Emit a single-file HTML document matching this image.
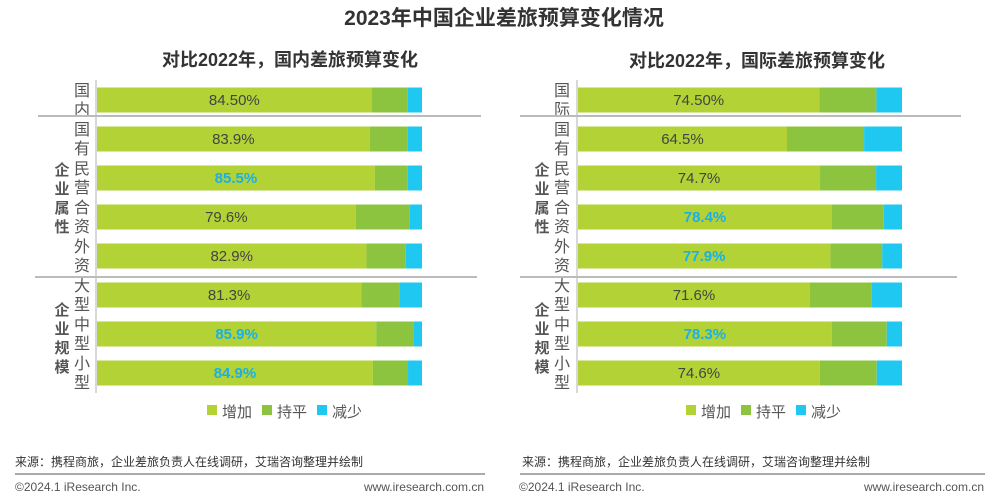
<!DOCTYPE html>
<html><head><meta charset="utf-8">
<style>
body{margin:0;background:#fff;}
svg{display:block;font-family:"Liberation Sans","Noto Sans CJK SC",sans-serif;}
</style></head>
<body>
<svg id="c" width="1007" height="504" xmlns="http://www.w3.org/2000/svg">
<text x="504" y="25" text-anchor="middle" font-size="21" font-weight="bold" fill="#333">2023年中国企业差旅预算变化情况</text>
<text x="290" y="66" text-anchor="middle" font-size="18" font-weight="bold" fill="#333">对比2022年，国内差旅预算变化</text>
<text x="757" y="67" text-anchor="middle" font-size="18" font-weight="bold" fill="#333">对比2022年，国际差旅预算变化</text>
<g id="left"></g>
<g id="right"></g>
<g font-size="12" fill="#333">
<text x="15" y="466">来源：携程商旅，企业差旅负责人在线调研，艾瑞咨询整理并绘制</text>
<text x="15" y="491" fill="#555">©2024.1 iResearch Inc.</text>
<text x="484" y="491" text-anchor="end" fill="#555">www.iresearch.com.cn</text>
<text x="522" y="466">来源：携程商旅，企业差旅负责人在线调研，艾瑞咨询整理并绘制</text>
<text x="519" y="491" fill="#555">©2024.1 iResearch Inc.</text>
<text x="984" y="491" text-anchor="end" fill="#555">www.iresearch.com.cn</text>
</g>
<line x1="15" y1="474" x2="485" y2="474" stroke="#777" stroke-width="1.2"/>
<line x1="520" y1="474" x2="985" y2="474" stroke="#777" stroke-width="1.2"/>
</svg>
<script>
const categoriesLeft = ["国内","国有","民营","合资","外资","大型","中型","小型"];
const categoriesRight = ["国际","国有","民营","合资","外资","大型","中型","小型"];
const domesticIncrease = [84.5,83.9,85.5,79.6,82.9,81.3,85.9,84.9];
const domesticFlat = [11.1,11.7,10.1,16.6,12.1,11.7,11.4,10.8];
const domesticDecrease = [4.4,4.4,4.4,3.8,5.0,7.0,2.7,4.3];
const domesticLabels = ["84.50%","83.9%","85.5%","79.6%","82.9%","81.3%","85.9%","84.9%"];
const intlIncrease = [74.5,64.5,74.7,78.4,77.9,71.6,78.3,74.6];
const intlFlat = [17.6,23.8,17.3,16.0,16.0,19.1,17.0,17.6];
const intlDecrease = [7.9,11.7,8.0,5.6,6.1,9.3,4.7,7.8];
const intlLabels = ["74.50%","64.5%","74.7%","78.4%","77.9%","71.6%","78.3%","74.6%"];
const domesticHighlight = [false,false,true,false,false,false,true,true];
const intlHighlight = [false,false,false,true,true,false,true,false];
const seriesNames = ["增加","持平","减少"];
const colors = ["#b2d235","#8cc43f","#1fc8f0"];
const NS="http://www.w3.org/2000/svg";
function mk(tag,attrs,parent){const e=document.createElementNS(NS,tag);for(const k in attrs)e.setAttribute(k,attrs[k]);parent.appendChild(e);return e;}
function draw(g,cfg){
  const x0=cfg.x0,w=cfg.w;
  const xs=v=>v/100*w;
  const yc=i=>100+i*39;
  const bh=25;
  const ax=mk('line',{x1:x0-1,y1:80,x2:x0-1,y2:393,stroke:'#ccc','stroke-width':1.5},g);
  
  
  cfg.cats.forEach((c,i)=>{
    const vals=[cfg.inc[i],cfg.flat[i],cfg.dec[i]];
    let x=x0;
    vals.forEach((v,s)=>{
      const r=mk('rect',{x:x,y:yc(i)-bh/2,width:xs(v),height:bh,fill:colors[s]},g);
      
      
      x+=xs(v);
    });
    const hl=cfg.hl[i];
    const t=mk('text',{x:x0+xs(cfg.inc[i])/2,y:yc(i)+5,'text-anchor':'middle','font-size':15,fill:hl?'#1ab0e8':'#444','font-weight':hl?'bold':'normal'},g);
    t.textContent=cfg.labels[i];
    
    
    [...c].forEach((ch,k)=>{
      const ct=mk('text',{x:cfg.catX,y:yc(i)-4+k*19,'text-anchor':'middle','font-size':16,fill:'#555'},g);
      ct.textContent=ch;
      
      
    });
  });
  [[116,cfg.sep1],[277,cfg.sep2]].forEach(([y,s])=>{
    const l=mk('line',{x1:s[0],y1:y,x2:s[1],y2:y,stroke:'#bbb','stroke-width':2},g);
    
    
  });
  [["企业属性",175],["企业规模",315]].forEach(([txt,y])=>{
    [...txt].forEach((ch,k)=>{
      const t=mk('text',{x:cfg.grpX,y:y+k*19,'text-anchor':'middle','font-size':15,'font-weight':'bold',fill:'#555'},g);
      t.textContent=ch;
      
      
    });
  });
  let lx=cfg.legX;
  seriesNames.forEach((n,s)=>{
    const r=mk('rect',{x:lx,y:405,width:10,height:10,fill:colors[s]},g);
    
    
    const t=mk('text',{x:lx+15,y:417,'font-size':15,fill:'#555'},g);
    t.textContent=n;
    
    
    lx+=55;
  });
}
draw(document.getElementById('left'),{x0:97,w:325,cats:categoriesLeft,inc:domesticIncrease,flat:domesticFlat,dec:domesticDecrease,labels:domesticLabels,hl:domesticHighlight,catX:82,grpX:62,sep1:[38,481],sep2:[35,477],legX:207});
draw(document.getElementById('right'),{x0:578,w:324,cats:categoriesRight,inc:intlIncrease,flat:intlFlat,dec:intlDecrease,labels:intlLabels,hl:intlHighlight,catX:562,grpX:542,sep1:[520,961],sep2:[520,957],legX:686});
</script>
</body></html>
